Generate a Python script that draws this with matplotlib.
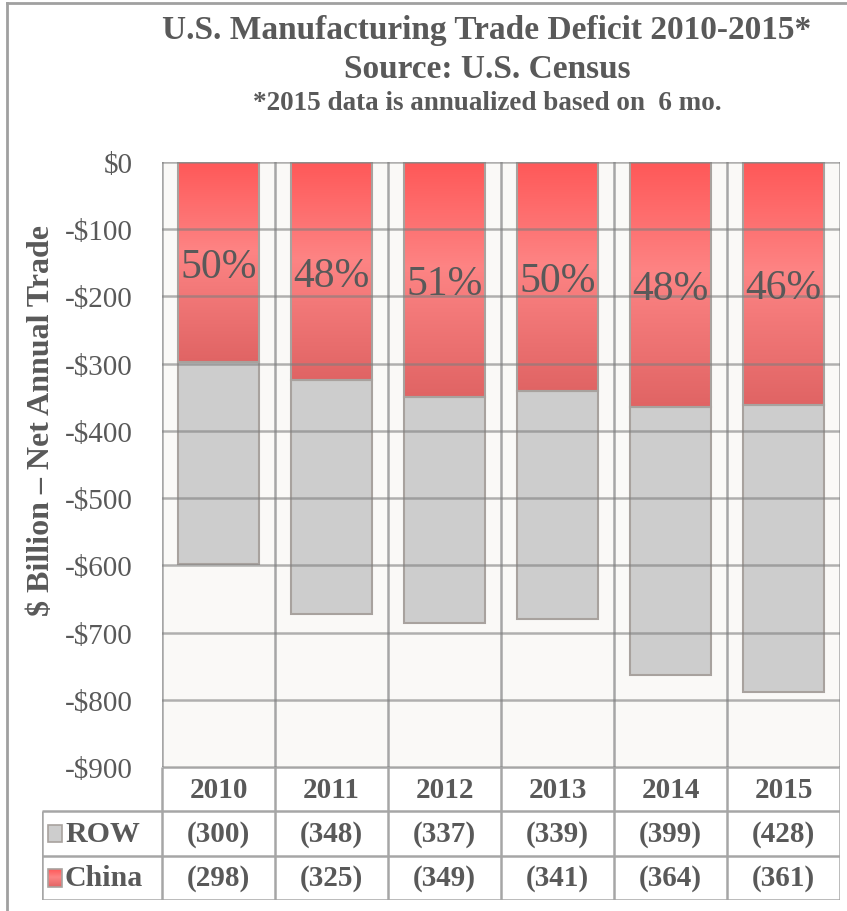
import numpy as np
import matplotlib
matplotlib.use("Agg")
import matplotlib.pyplot as plt
from matplotlib.patches import Rectangle
from matplotlib.colors import LinearSegmentedColormap
from matplotlib.lines import Line2D

# ---- data ----
years = ["2010", "2011", "2012", "2013", "2014", "2015"]
china = [298, 325, 349, 341, 364, 361]
row = [300, 348, 337, 339, 399, 428]
yticks = [0, -100, -200, -300, -400, -500, -600, -700, -800, -900]
ytick_labels = ["$0", "-$100", "-$200", "-$300", "-$400", "-$500",
                "-$600", "-$700", "-$800", "-$900"]
series_names = ["ROW", "China"]

title1 = "U.S. Manufacturing Trade Deficit 2010-2015*"
title2 = "Source: U.S. Census"
title3 = "*2015 data is annualized based on  6 mo."
ylabel = "$ Billion \u2013 Net Annual Trade"

FONT = "Liberation Serif"
TXT = "#595959"
GRID = "#a6a6a6"

W, H = 847, 912
fig = plt.figure(figsize=(W / 100, H / 100), dpi=100)
fig.patch.set_facecolor("white")

def px(x0, y0, x1, y1):
    return [x0 / W, 1 - y1 / H, (x1 - x0) / W, (y1 - y0) / H]

# outer border (top and left visible)
fig.add_artist(Line2D([7 / W, 7 / W], [0, 1 - 4 / H], transform=fig.transFigure,
                      color="#a0a0a0", lw=2))
fig.add_artist(Line2D([7 / W, 1], [1 - 4 / H, 1 - 4 / H], transform=fig.transFigure,
                      color="#a0a0a0", lw=2))

PL, PR, PT, PB = 162, 840, 163, 768
ax = fig.add_axes(px(PL, PT, PR, PB))
ax.set_facecolor("#faf9f7")
n = len(years)
x = np.arange(n)
bw = 0.72

red_cmap = LinearSegmentedColormap.from_list(
    "red", [(0.0, "#ff5858"), (0.45, "#fd8484"), (1.0, "#e06464")])
grad = np.linspace(0, 1, 256).reshape(-1, 1)

for i in range(n):
    c = china[i]
    r = row[i]
    rect = Rectangle((x[i] - bw / 2, -c), bw, c, facecolor="none",
                     edgecolor="#a8a29e", lw=1.5, zorder=2)
    ax.add_patch(rect)
    im = ax.imshow(grad, cmap=red_cmap, aspect="auto", origin="upper",
                   extent=(x[i] - bw / 2, x[i] + bw / 2, -c, 0), zorder=1)
    im.set_clip_path(rect)
    ax.add_patch(Rectangle((x[i] - bw / 2, -c - r), bw, r, facecolor="#cdcdcd",
                           edgecolor="#a8a29e", lw=1.5, zorder=1.5))
    pct = round(100 * c / (c + r))
    ax.text(x[i], -c / 2, f"{pct}%", ha="center", va="center_baseline", color=TXT,
            fontsize=30, family=FONT, zorder=5)

for yv in yticks:
    ax.axhline(yv, color="#7f7f7f", alpha=0.6, lw=1.8, zorder=4)
for b in np.arange(-0.5, n, 1.0):
    ax.axvline(b, color=GRID, lw=1.8, zorder=0.5)

ax.set_xlim(-0.5, n - 0.5)
ax.set_ylim(-900, 0)
ax.set_yticks(yticks)
ax.set_yticklabels(ytick_labels, family=FONT, fontsize=21, color=TXT)
ax.set_xticks([])
ax.tick_params(axis="y", length=0, pad=21)
for s in ax.spines.values():
    s.set_visible(False)

# y label
fig.text(42 / W, 1 - 420 / H, ylabel, rotation=90, ha="center", va="center",
         family=FONT, fontweight="bold", fontsize=23, color=TXT)

# titles
cx = 487 / W
fig.text(cx, 1 - 31 / H, title1, ha="center", va="center", family=FONT,
         fontweight="bold", fontsize=24, color=TXT)
fig.text(cx, 1 - 69 / H, title2, ha="center", va="center", family=FONT,
         fontweight="bold", fontsize=24, color=TXT)
fig.text(cx, 1 - 104 / H, title3, ha="center", va="center", family=FONT,
         fontweight="bold", fontsize=19.5, color=TXT)

# ---- data table ----
TL, TT, TB = 42, 768, 901
leg_w = (PL - TL) / ((PR - PL) / n)
tax = fig.add_axes(px(TL, TT, PR, TB))
tax.set_xlim(-0.5 - leg_w, n - 0.5)
tax.set_ylim(3, 0)
tax.axis("off")
tax.patch.set_alpha(0)

lc = dict(color=GRID, lw=1.8, solid_capstyle="butt")
tax.plot([-0.5, n - 0.5], [0, 0], **lc)
for yy in [1, 2, 3]:
    tax.plot([-0.5 - leg_w, n - 0.5], [yy, yy], **lc)
for b in np.arange(-0.5, n, 1.0):
    tax.plot([b, b], [0, 3], **lc)
tax.plot([-0.5 - leg_w, -0.5 - leg_w], [1, 3], **lc)

for i, yr in enumerate(years):
    tax.text(x[i], 0.5, yr, ha="center", va="center", family=FONT,
             fontweight="bold", fontsize=21, color=TXT)
    tax.text(x[i], 1.5, f"({row[i]})", ha="center", va="center", family=FONT,
             fontweight="bold", fontsize=21, color=TXT)
    tax.text(x[i], 2.5, f"({china[i]})", ha="center", va="center", family=FONT,
             fontweight="bold", fontsize=21, color=TXT)

unit = (PR - PL) / n
mk_w = 14 / unit
x0 = -0.5 - leg_w + 6 / unit
for j, name in enumerate(series_names):
    yc = 1.5 + j
    mrect = Rectangle((x0, yc - 0.2), mk_w, 0.4,
                      facecolor="#cdcdcd" if name == "ROW" else "none",
                      edgecolor="#a8a29e", lw=1.2, zorder=3)
    tax.add_patch(mrect)
    if name == "China":
        im = tax.imshow(grad, cmap=red_cmap, aspect="auto", origin="upper",
                        extent=(x0, x0 + mk_w, yc + 0.2, yc - 0.2), zorder=2)
        im.set_clip_path(mrect)
    tax.text(x0 + mk_w + 3 / unit, yc, name, ha="left", va="center", family=FONT,
             fontweight="bold", fontsize=21.5, color=TXT)
tax.set_xlim(-0.5 - leg_w, n - 0.5)
tax.set_ylim(3, 0)

fig.savefig("out.png", dpi=100)
